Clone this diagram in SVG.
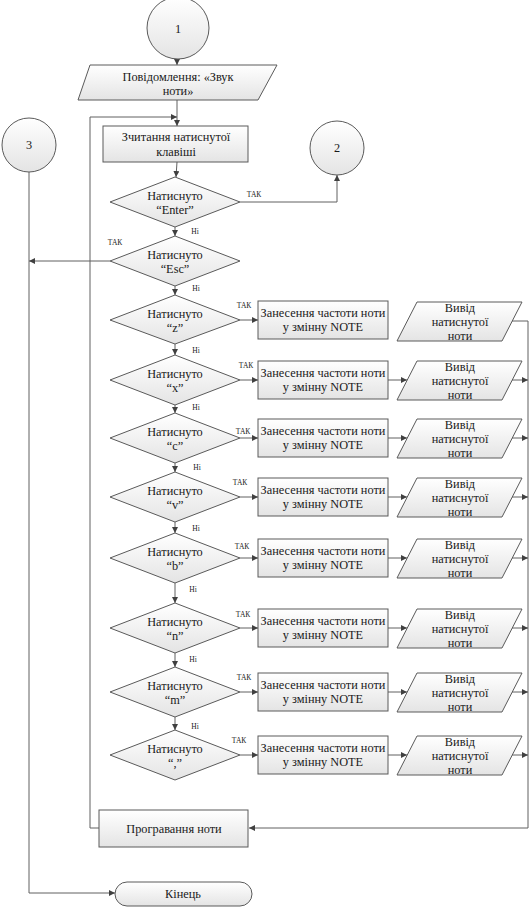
<svg xmlns="http://www.w3.org/2000/svg" width="530" height="907" viewBox="0 0 530 907">
<defs>
<linearGradient id="g" x1="0" y1="0" x2="0" y2="1">
<stop offset="0" stop-color="#ffffff"/>
<stop offset="1" stop-color="#e4e4e4"/>
</linearGradient>
<marker id="a" viewBox="0 0 8 8" refX="8" refY="4" markerWidth="6" markerHeight="6" orient="auto" markerUnits="userSpaceOnUse">
<path d="M0,0 L8,4 L0,8 z" fill="#404040"/>
</marker>
</defs>
<style>
.s{fill:url(#g);stroke:#5a5a5a;stroke-width:1}
.t{font-family:'Liberation Serif','Times New Roman',serif;font-size:12.3px;fill:#1a1a1a;text-anchor:middle}
.l{font-family:'Liberation Serif','Times New Roman',serif;font-size:7.5px;fill:#1a1a1a;text-anchor:middle}
.c{fill:none;stroke:#606060;stroke-width:1}
.m{marker-end:url(#a)}
</style>
<rect width="530" height="907" fill="#ffffff"/>

<g id="connectors">
<line class="c m" x1="177" y1="59" x2="177" y2="65"/>
<line class="c m" x1="177" y1="100" x2="177" y2="126"/>
<polyline class="c m" points="99,828 90,828 90,117 177,117"/>
<line class="c m" x1="177" y1="162" x2="176" y2="177"/>
<polyline class="c m" points="240,202 337,202 337,175"/>
<line class="c m" x1="175" y1="227" x2="175" y2="236"/>
<polyline class="c m" points="110,261 29,261"/>
<polyline class="c m" points="29,172 29,893 115,893"/>
<line class="c m" x1="175" y1="286" x2="175" y2="295"/>
<line class="c m" x1="175" y1="344" x2="175" y2="355"/>
<line class="c m" x1="175" y1="405" x2="175" y2="413"/>
<line class="c m" x1="175" y1="463" x2="175" y2="472"/>
<line class="c m" x1="175" y1="522" x2="175" y2="533"/>
<line class="c m" x1="175" y1="583" x2="175" y2="603"/>
<line class="c m" x1="175" y1="653" x2="175" y2="667"/>
<line class="c m" x1="175" y1="717" x2="175" y2="730"/>
<line class="c m" x1="240" y1="320" x2="258" y2="320"/>
<line class="c m" x1="240" y1="380" x2="258" y2="380"/>
<line class="c m" x1="240" y1="438" x2="258" y2="438"/>
<line class="c m" x1="240" y1="497" x2="258" y2="497"/>
<line class="c m" x1="240" y1="558" x2="258" y2="558"/>
<line class="c m" x1="240" y1="628" x2="258" y2="628"/>
<line class="c m" x1="240" y1="692" x2="258" y2="692"/>
<line class="c m" x1="240" y1="755" x2="258" y2="755"/>
<line class="c m" x1="388" y1="380" x2="407" y2="380"/>
<line class="c m" x1="388" y1="438" x2="407" y2="438"/>
<line class="c m" x1="388" y1="497" x2="407" y2="497"/>
<line class="c m" x1="388" y1="558" x2="407" y2="558"/>
<line class="c m" x1="388" y1="628" x2="407" y2="628"/>
<line class="c m" x1="388" y1="692" x2="407" y2="692"/>
<line class="c m" x1="388" y1="755" x2="407" y2="755"/>
<polyline class="c m" points="512,321 528,321 528,828 249,828"/>
<line class="c m" x1="512" y1="380" x2="528" y2="380"/>
<line class="c m" x1="512" y1="438" x2="528" y2="438"/>
<line class="c m" x1="512" y1="497" x2="528" y2="497"/>
<line class="c m" x1="512" y1="558" x2="528" y2="558"/>
<line class="c m" x1="512" y1="628" x2="528" y2="628"/>
<line class="c m" x1="512" y1="692" x2="528" y2="692"/>
<line class="c m" x1="512" y1="755" x2="528" y2="755"/>
<text class="l" x="254" y="197">ТАК</text>
<text class="l" x="195" y="234">Ні</text>
<text class="l" x="115" y="245">ТАК</text>
<text class="l" x="196" y="291">Ні</text>
<text class="l" x="244" y="308">ТАК</text>
<text class="l" x="196" y="353">Ні</text>
<text class="l" x="246" y="368">ТАК</text>
<text class="l" x="196" y="410">Ні</text>
<text class="l" x="243" y="434">ТАК</text>
<text class="l" x="197" y="470">Ні</text>
<text class="l" x="240" y="485">ТАК</text>
<text class="l" x="196" y="531">Ні</text>
<text class="l" x="242" y="549">ТАК</text>
<text class="l" x="193" y="592">Ні</text>
<text class="l" x="243" y="617">ТАК</text>
<text class="l" x="193" y="662">Ні</text>
<text class="l" x="244" y="680">ТАК</text>
<text class="l" x="195" y="729">Ні</text>
<text class="l" x="239" y="743">ТАК</text>
</g>

<g id="n1"><circle class="s" cx="178" cy="28" r="31"/><text class="t" x="178" y="33">1</text></g>
<g id="msg"><polygon class="s" points="90,65 277,65 258,100 78,100"/><text class="t" x="178" y="81">Повідомлення: «Звук</text><text class="t" x="178" y="95">ноти»</text></g>
<g id="n3"><circle class="s" cx="29" cy="145" r="27"/><text class="t" x="29" y="149">3</text></g>
<g id="n2"><circle class="s" cx="337" cy="148" r="27"/><text class="t" x="337" y="152">2</text></g>
<g id="read"><rect class="s" x="103" y="126" width="145" height="36"/><text class="t" x="176" y="141">Зчитання натиснутої</text><text class="t" x="176" y="156">клавіші</text></g>
<g id="dEnter"><polygon class="s" points="175,177 240,202 175,227 110,202"/><text class="t" x="175" y="200">Натиснуто</text><text class="t" x="175" y="214">“Enter”</text></g>
<g id="dEsc"><polygon class="s" points="175,236 240,261 175,286 110,261"/><text class="t" x="175" y="259">Натиснуто</text><text class="t" x="175" y="273">“Esc”</text></g>

<g id="dz"><polygon class="s" points="175,295 240,320 175,344 110,320"/><text class="t" x="175" y="318">Натиснуто</text><text class="t" x="175" y="332">“z”</text></g>
<g id="rz"><rect class="s" x="258" y="301" width="130" height="38"/><text class="t" x="323" y="317">Занесення частоти ноти</text><text class="t" x="323" y="331">у змінну NOTE</text></g>
<g id="oz"><polygon class="s" points="417,302 522,302 502,341 397,341"/><text class="t" x="460" y="312">Вивід</text><text class="t" x="460" y="326">натиснутої</text><text class="t" x="460" y="340">ноти</text></g>

<g id="dx"><polygon class="s" points="175,355 240,380 175,405 110,380"/><text class="t" x="175" y="378">Натиснуто</text><text class="t" x="175" y="392">“x”</text></g>
<g id="rx"><rect class="s" x="258" y="361" width="130" height="38"/><text class="t" x="323" y="377">Занесення частоти ноти</text><text class="t" x="323" y="391">у змінну NOTE</text></g>
<g id="ox"><polygon class="s" points="417,361 522,361 502,400 397,400"/><text class="t" x="460" y="371">Вивід</text><text class="t" x="460" y="385">натиснутої</text><text class="t" x="460" y="399">ноти</text></g>

<g id="dc"><polygon class="s" points="175,413 240,438 175,463 110,438"/><text class="t" x="175" y="436">Натиснуто</text><text class="t" x="175" y="450">“c”</text></g>
<g id="rc"><rect class="s" x="258" y="419" width="130" height="38"/><text class="t" x="323" y="435">Занесення частоти ноти</text><text class="t" x="323" y="449">у змінну NOTE</text></g>
<g id="oc"><polygon class="s" points="417,419 522,419 502,458 397,458"/><text class="t" x="460" y="429">Вивід</text><text class="t" x="460" y="443">натиснутої</text><text class="t" x="460" y="457">ноти</text></g>

<g id="dv"><polygon class="s" points="175,472 240,497 175,522 110,497"/><text class="t" x="175" y="495">Натиснуто</text><text class="t" x="175" y="509">“v”</text></g>
<g id="rv"><rect class="s" x="258" y="478" width="130" height="38"/><text class="t" x="323" y="494">Занесення частоти ноти</text><text class="t" x="323" y="508">у змінну NOTE</text></g>
<g id="ov"><polygon class="s" points="417,478 522,478 502,517 397,517"/><text class="t" x="460" y="488">Вивід</text><text class="t" x="460" y="502">натиснутої</text><text class="t" x="460" y="516">ноти</text></g>

<g id="db"><polygon class="s" points="175,533 240,558 175,583 110,558"/><text class="t" x="175" y="556">Натиснуто</text><text class="t" x="175" y="570">“b”</text></g>
<g id="rb"><rect class="s" x="258" y="539" width="130" height="38"/><text class="t" x="323" y="555">Занесення частоти ноти</text><text class="t" x="323" y="569">у змінну NOTE</text></g>
<g id="ob"><polygon class="s" points="417,539 522,539 502,578 397,578"/><text class="t" x="460" y="549">Вивід</text><text class="t" x="460" y="563">натиснутої</text><text class="t" x="460" y="577">ноти</text></g>

<g id="dn"><polygon class="s" points="175,603 240,628 175,653 110,628"/><text class="t" x="175" y="626">Натиснуто</text><text class="t" x="175" y="640">“n”</text></g>
<g id="rn"><rect class="s" x="258" y="609" width="130" height="38"/><text class="t" x="323" y="625">Занесення частоти ноти</text><text class="t" x="323" y="639">у змінну NOTE</text></g>
<g id="on"><polygon class="s" points="417,609 522,609 502,648 397,648"/><text class="t" x="460" y="619">Вивід</text><text class="t" x="460" y="633">натиснутої</text><text class="t" x="460" y="647">ноти</text></g>

<g id="dm"><polygon class="s" points="175,667 240,692 175,717 110,692"/><text class="t" x="175" y="690">Натиснуто</text><text class="t" x="175" y="704">“m”</text></g>
<g id="rm"><rect class="s" x="258" y="673" width="130" height="38"/><text class="t" x="323" y="689">Занесення частоти ноти</text><text class="t" x="323" y="703">у змінну NOTE</text></g>
<g id="om"><polygon class="s" points="417,673 522,673 502,712 397,712"/><text class="t" x="460" y="683">Вивід</text><text class="t" x="460" y="697">натиснутої</text><text class="t" x="460" y="711">ноти</text></g>

<g id="dcomma"><polygon class="s" points="175,730 240,755 175,780 110,755"/><text class="t" x="175" y="753">Натиснуто</text><text class="t" x="175" y="767">“,”</text></g>
<g id="rcomma"><rect class="s" x="258" y="736" width="130" height="38"/><text class="t" x="323" y="752">Занесення частоти ноти</text><text class="t" x="323" y="766">у змінну NOTE</text></g>
<g id="ocomma"><polygon class="s" points="417,736 522,736 502,775 397,775"/><text class="t" x="460" y="746">Вивід</text><text class="t" x="460" y="760">натиснутої</text><text class="t" x="460" y="774">ноти</text></g>

<g id="play"><rect class="s" x="99" y="810" width="149" height="37"/><text class="t" x="174" y="833">Програвання ноти</text></g>
<g id="end"><rect class="s" x="115" y="882" width="137" height="24" rx="12" ry="12"/><text class="t" x="183" y="898">Кінець</text></g>
</svg>
